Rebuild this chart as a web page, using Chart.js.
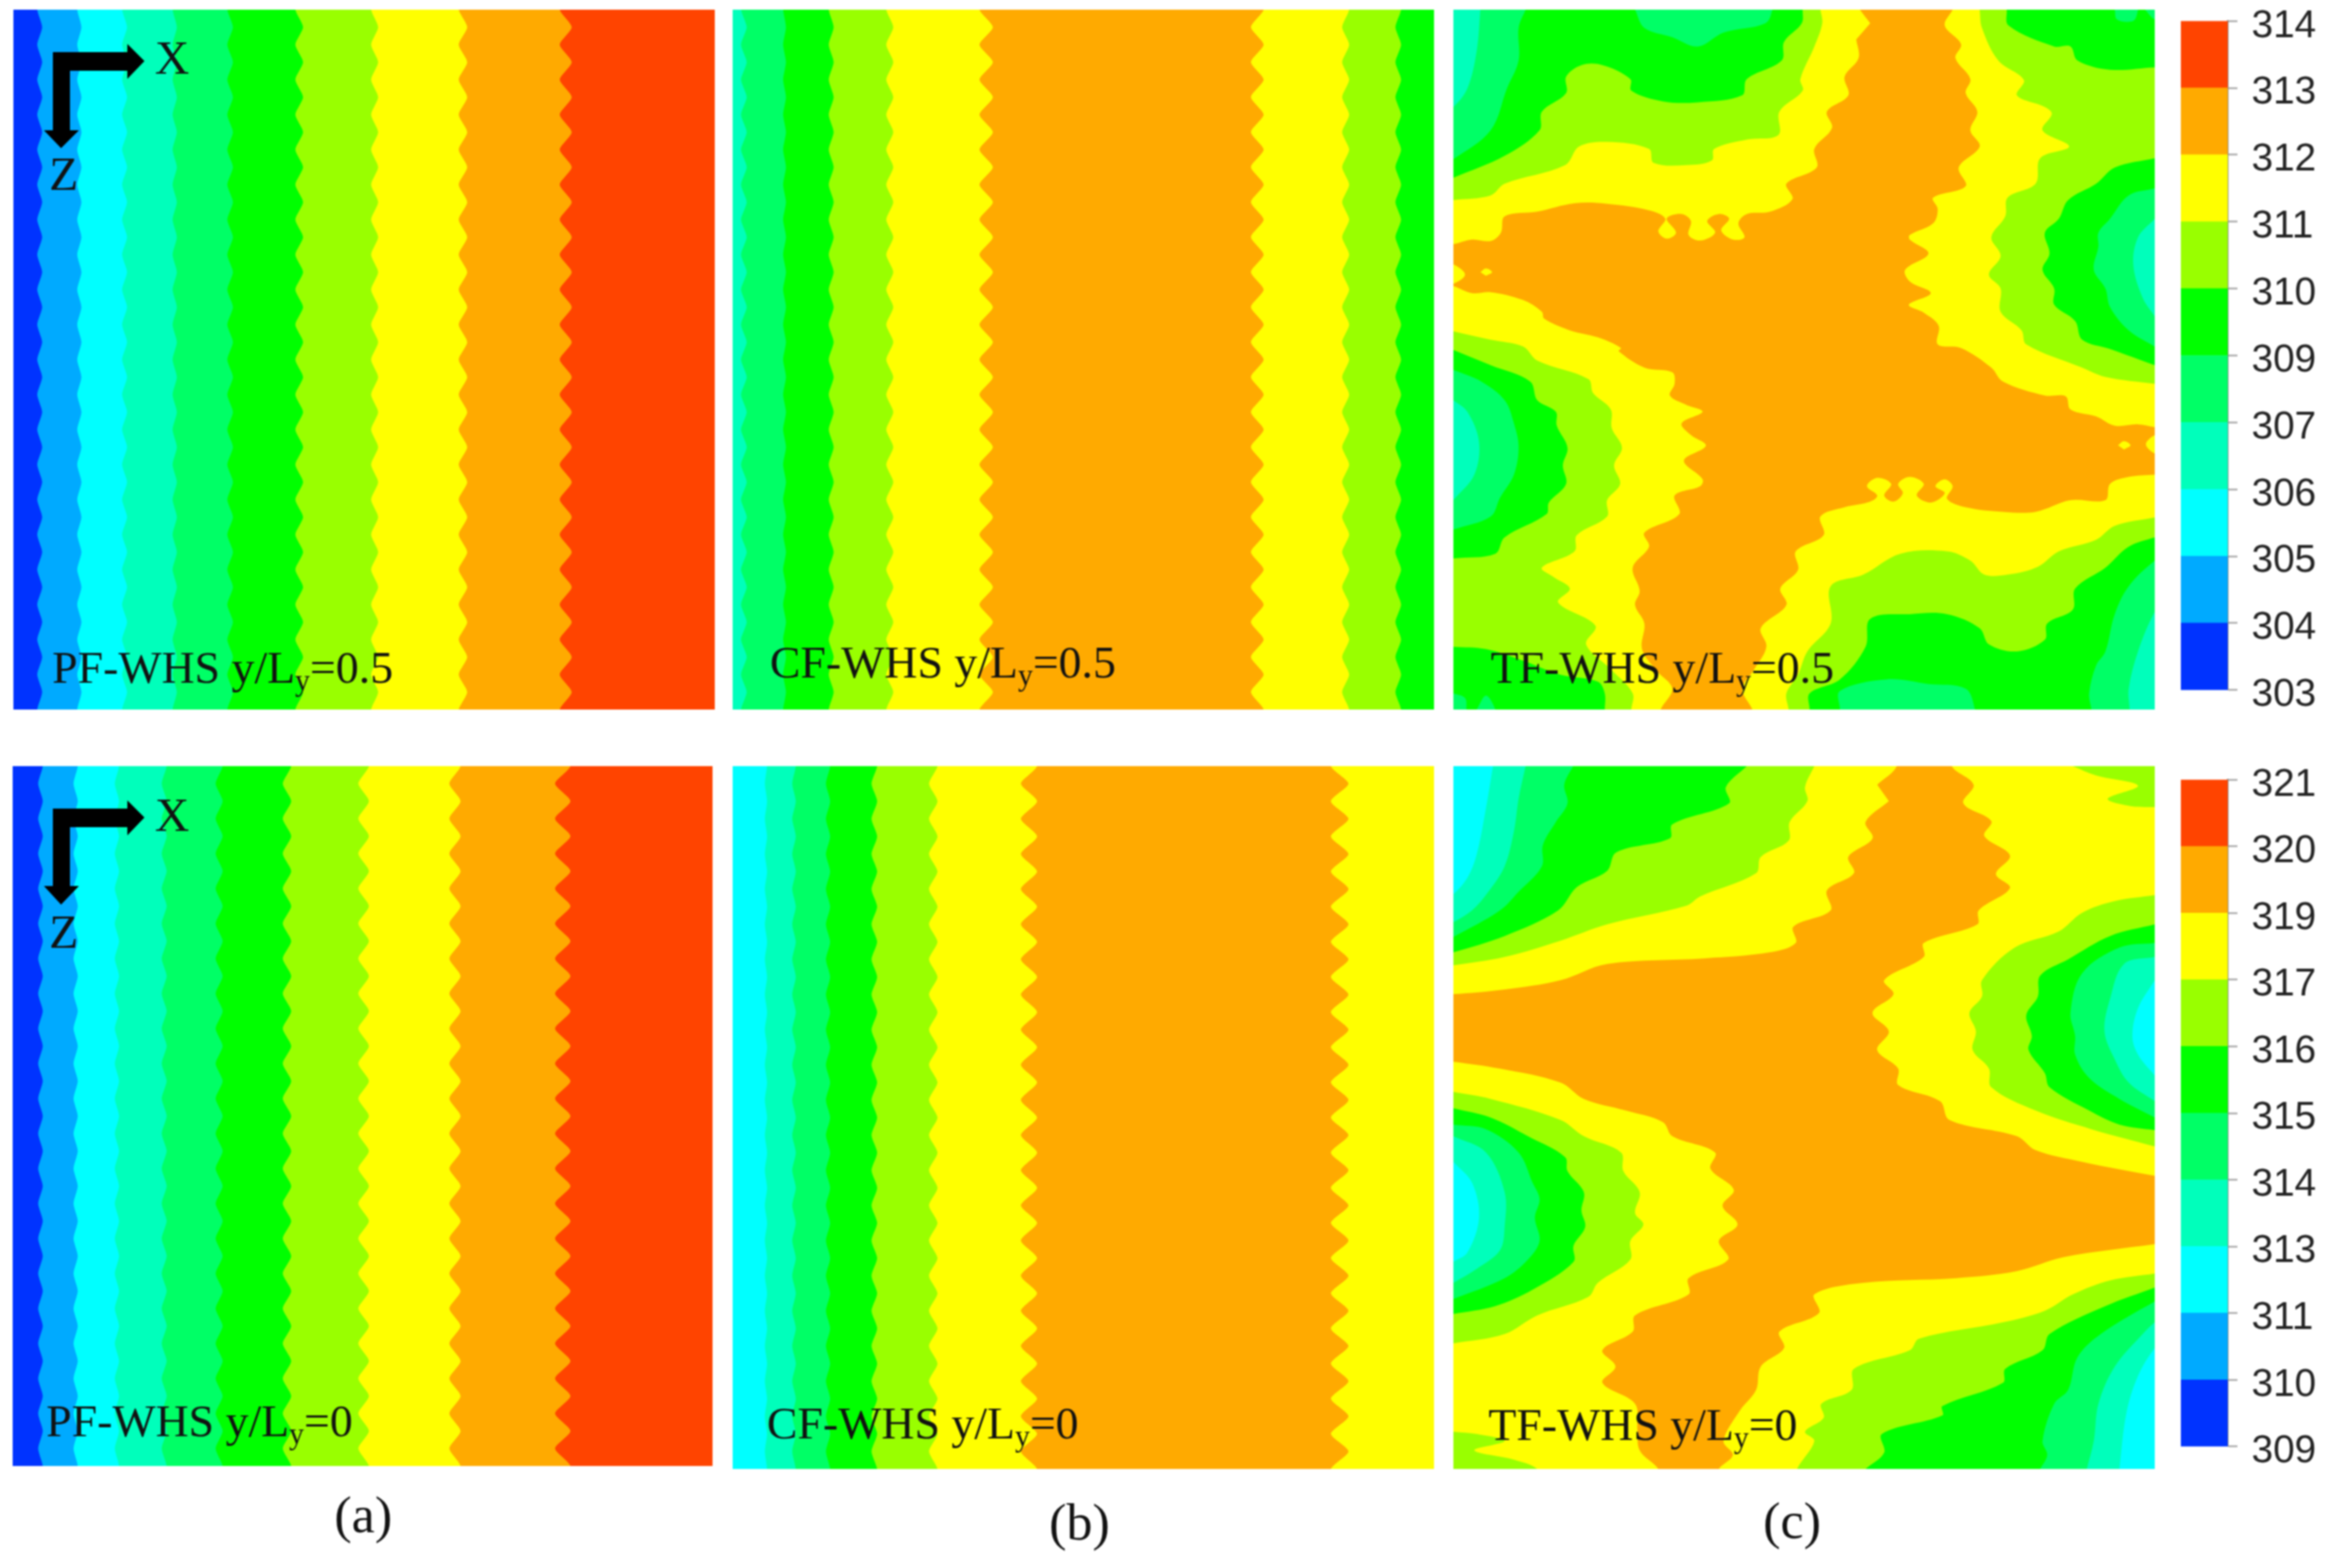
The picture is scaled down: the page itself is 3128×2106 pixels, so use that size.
<!DOCTYPE html>
<html>
<head>
<meta charset="utf-8">
<title>WHS temperature contours</title>
<script src="https://cdn.jsdelivr.net/npm/chart.js@4"></script>
<style>
  html, body { margin: 0; background: #fff; overflow: hidden; }
  #page { position: relative; width: 3128px; height: 2106px; filter: blur(0.9px); }
  canvas { position: absolute; }
  .tag { position: absolute; font-family: "Liberation Serif", serif; color: #111; white-space: nowrap; line-height: 1; }
  .tag sub { font-size: 0.65em; line-height: 0; vertical-align: -0.25em; }
  svg { position: absolute; left: 0; top: 0; }
</style>
</head>
<body>
<div id="page"></div>
<script>
// Contour levels, colour bars
const bandColors = ['#0033ff', '#00aaff', '#00ffff', '#00ffbb', '#00ff66', '#00ff00', '#99ff00', '#ffff00', '#ffaa00', '#ff4400'];
const midLevels = [303, 304.1, 305.2, 306.3, 307.4, 308.5, 309.6, 310.7, 311.8, 312.9, 314];
const wallLevels = [309, 310.2, 311.4, 312.6, 313.8, 315, 316.2, 317.4, 318.6, 319.8, 321];

// Stations along z (% of panel height) where the strip edges were read
const zStations = [0, 2.5, 5, 7.5, 10, 12.5, 15, 17.5, 20, 22.5, 25, 27.5, 30, 32.5, 35, 37.5, 40, 42.5, 45, 47.5, 50, 52.5, 55, 57.5, 60, 62.5, 65, 67.5, 70, 72.5, 75, 77.5, 80, 82.5, 85, 87.5, 90, 92.5, 95, 97.5, 100];

// Strip edges, x in % of panel width, one row per edge
const pfMidBands = [0, 1, 2, 3, 4, 5, 6, 7, 8, 9];
const pfMidEdges = [
  [3.4,4.1,3.4,4.1,3.4,4.1,3.4,4.1,3.4,4.1,3.4,4.1,3.4,4.1,3.4,4.1,3.4,4.1,3.4,4.1,3.4,4.1,3.4,4.1,3.4,4.1,3.4,4.1,3.4,4.1,3.4,4.1,3.4,4.1,3.4,4.1,3.4,4.1,3.4,4.1,3.4],
  [9.1,9.7,9.1,9.7,9.1,9.7,9.1,9.7,9.1,9.7,9.1,9.7,9.1,9.7,9.1,9.7,9.1,9.7,9.1,9.7,9.1,9.7,9.1,9.7,9.1,9.7,9.1,9.7,9.1,9.7,9.1,9.7,9.1,9.7,9.1,9.7,9.1,9.7,9.1,9.7,9.1],
  [15.5,16.2,15.5,16.2,15.5,16.2,15.5,16.2,15.5,16.2,15.5,16.2,15.5,16.2,15.5,16.2,15.5,16.2,15.5,16.2,15.5,16.2,15.5,16.2,15.5,16.2,15.5,16.2,15.5,16.2,15.5,16.2,15.5,16.2,15.5,16.2,15.5,16.2,15.5,16.2,15.5],
  [22.7,23.3,22.7,23.3,22.7,23.3,22.7,23.3,22.7,23.3,22.7,23.3,22.7,23.3,22.7,23.3,22.7,23.3,22.7,23.3,22.7,23.3,22.7,23.3,22.7,23.3,22.7,23.3,22.7,23.3,22.7,23.3,22.7,23.3,22.7,23.3,22.7,23.3,22.7,23.3,22.7],
  [30.5,31.3,30.5,31.3,30.5,31.3,30.5,31.3,30.5,31.3,30.5,31.3,30.5,31.3,30.5,31.3,30.5,31.3,30.5,31.3,30.5,31.3,30.5,31.3,30.5,31.3,30.5,31.3,30.5,31.3,30.5,31.3,30.5,31.3,30.5,31.3,30.5,31.3,30.5,31.3,30.5],
  [40.2,41.3,40.2,41.3,40.2,41.3,40.2,41.3,40.2,41.3,40.2,41.3,40.2,41.3,40.2,41.3,40.2,41.3,40.2,41.3,40.2,41.3,40.2,41.3,40.2,41.3,40.2,41.3,40.2,41.3,40.2,41.3,40.2,41.3,40.2,41.3,40.2,41.3,40.2,41.3,40.2],
  [51,52,51,52,51,52,51,52,51,52,51,52,51,52,51,52,51,52,51,52,51,52,51,52,51,52,51,52,51,52,51,52,51,52,51,52,51,52,51,52,51],
  [63.5,64.7,63.5,64.7,63.5,64.7,63.5,64.7,63.5,64.7,63.5,64.7,63.5,64.7,63.5,64.7,63.5,64.7,63.5,64.7,63.5,64.7,63.5,64.7,63.5,64.7,63.5,64.7,63.5,64.7,63.5,64.7,63.5,64.7,63.5,64.7,63.5,64.7,63.5,64.7,63.5],
  [77.9,79.6,77.9,79.6,77.9,79.6,77.9,79.6,77.9,79.6,77.9,79.6,77.9,79.6,77.9,79.6,77.9,79.6,77.9,79.6,77.9,79.6,77.9,79.6,77.9,79.6,77.9,79.6,77.9,79.6,77.9,79.6,77.9,79.6,77.9,79.6,77.9,79.6,77.9,79.6,77.9]
];

const pfWallBands = [0, 1, 2, 3, 4, 5, 6, 7, 8, 9];
const pfWallEdges = [
  [4.3,3.65,4.3,3.65,4.3,3.65,4.3,3.65,4.3,3.65,4.3,3.65,4.3,3.65,4.3,3.65,4.3,3.65,4.3,3.65,4.3,3.65,4.3,3.65,4.3,3.65,4.3,3.65,4.3,3.65,4.3,3.65,4.3,3.65,4.3,3.65,4.3,3.65,4.3,3.65,4.3],
  [9.3,8.7,9.3,8.7,9.3,8.7,9.3,8.7,9.3,8.7,9.3,8.7,9.3,8.7,9.3,8.7,9.3,8.7,9.3,8.7,9.3,8.7,9.3,8.7,9.3,8.7,9.3,8.7,9.3,8.7,9.3,8.7,9.3,8.7,9.3,8.7,9.3,8.7,9.3,8.7,9.3],
  [15.2,14.6,15.2,14.6,15.2,14.6,15.2,14.6,15.2,14.6,15.2,14.6,15.2,14.6,15.2,14.6,15.2,14.6,15.2,14.6,15.2,14.6,15.2,14.6,15.2,14.6,15.2,14.6,15.2,14.6,15.2,14.6,15.2,14.6,15.2,14.6,15.2,14.6,15.2,14.6,15.2],
  [22,21.3,22,21.3,22,21.3,22,21.3,22,21.3,22,21.3,22,21.3,22,21.3,22,21.3,22,21.3,22,21.3,22,21.3,22,21.3,22,21.3,22,21.3,22,21.3,22,21.3,22,21.3,22,21.3,22,21.3,22],
  [30,29,30,29,30,29,30,29,30,29,30,29,30,29,30,29,30,29,30,29,30,29,30,29,30,29,30,29,30,29,30,29,30,29,30,29,30,29,30,29,30],
  [39.8,38.6,39.8,38.6,39.8,38.6,39.8,38.6,39.8,38.6,39.8,38.6,39.8,38.6,39.8,38.6,39.8,38.6,39.8,38.6,39.8,38.6,39.8,38.6,39.8,38.6,39.8,38.6,39.8,38.6,39.8,38.6,39.8,38.6,39.8,38.6,39.8,38.6,39.8,38.6,39.8],
  [50.9,49.4,50.9,49.4,50.9,49.4,50.9,49.4,50.9,49.4,50.9,49.4,50.9,49.4,50.9,49.4,50.9,49.4,50.9,49.4,50.9,49.4,50.9,49.4,50.9,49.4,50.9,49.4,50.9,49.4,50.9,49.4,50.9,49.4,50.9,49.4,50.9,49.4,50.9,49.4,50.9],
  [64,62.4,64,62.4,64,62.4,64,62.4,64,62.4,64,62.4,64,62.4,64,62.4,64,62.4,64,62.4,64,62.4,64,62.4,64,62.4,64,62.4,64,62.4,64,62.4,64,62.4,64,62.4,64,62.4,64,62.4,64],
  [79.7,77.5,79.7,77.5,79.7,77.5,79.7,77.5,79.7,77.5,79.7,77.5,79.7,77.5,79.7,77.5,79.7,77.5,79.7,77.5,79.7,77.5,79.7,77.5,79.7,77.5,79.7,77.5,79.7,77.5,79.7,77.5,79.7,77.5,79.7,77.5,79.7,77.5,79.7,77.5,79.7]
];

const cfMidBands = [3, 4, 5, 6, 7, 8, 7, 6, 5];
const cfMidEdges = [
  [1.2,2,1.2,2,1.2,2,1.2,2,1.2,2,1.2,2,1.2,2,1.2,2,1.2,2,1.2,2,1.2,2,1.2,2,1.2,2,1.2,2,1.2,2,1.2,2,1.2,2,1.2,2,1.2,2,1.2,2,1.2],
  [7.2,7.6,7.2,7.6,7.2,7.6,7.2,7.6,7.2,7.6,7.2,7.6,7.2,7.6,7.2,7.6,7.2,7.6,7.2,7.6,7.2,7.6,7.2,7.6,7.2,7.6,7.2,7.6,7.2,7.6,7.2,7.6,7.2,7.6,7.2,7.6,7.2,7.6,7.2,7.6,7.2],
  [13.7,14.4,13.7,14.4,13.7,14.4,13.7,14.4,13.7,14.4,13.7,14.4,13.7,14.4,13.7,14.4,13.7,14.4,13.7,14.4,13.7,14.4,13.7,14.4,13.7,14.4,13.7,14.4,13.7,14.4,13.7,14.4,13.7,14.4,13.7,14.4,13.7,14.4,13.7,14.4,13.7],
  [21.9,22.9,21.9,22.9,21.9,22.9,21.9,22.9,21.9,22.9,21.9,22.9,21.9,22.9,21.9,22.9,21.9,22.9,21.9,22.9,21.9,22.9,21.9,22.9,21.9,22.9,21.9,22.9,21.9,22.9,21.9,22.9,21.9,22.9,21.9,22.9,21.9,22.9,21.9,22.9,21.9],
  [35.2,37.1,35.2,37.1,35.2,37.1,35.2,37.1,35.2,37.1,35.2,37.1,35.2,37.1,35.2,37.1,35.2,37.1,35.2,37.1,35.2,37.1,35.2,37.1,35.2,37.1,35.2,37.1,35.2,37.1,35.2,37.1,35.2,37.1,35.2,37.1,35.2,37.1,35.2,37.1,35.2],
  [75.7,73.9,75.7,73.9,75.7,73.9,75.7,73.9,75.7,73.9,75.7,73.9,75.7,73.9,75.7,73.9,75.7,73.9,75.7,73.9,75.7,73.9,75.7,73.9,75.7,73.9,75.7,73.9,75.7,73.9,75.7,73.9,75.7,73.9,75.7,73.9,75.7,73.9,75.7,73.9,75.7],
  [87.9,86.9,87.9,86.9,87.9,86.9,87.9,86.9,87.9,86.9,87.9,86.9,87.9,86.9,87.9,86.9,87.9,86.9,87.9,86.9,87.9,86.9,87.9,86.9,87.9,86.9,87.9,86.9,87.9,86.9,87.9,86.9,87.9,86.9,87.9,86.9,87.9,86.9,87.9,86.9,87.9],
  [95.3,94.5,95.3,94.5,95.3,94.5,95.3,94.5,95.3,94.5,95.3,94.5,95.3,94.5,95.3,94.5,95.3,94.5,95.3,94.5,95.3,94.5,95.3,94.5,95.3,94.5,95.3,94.5,95.3,94.5,95.3,94.5,95.3,94.5,95.3,94.5,95.3,94.5,95.3,94.5,95.3]
];

const cfWallBands = [2, 3, 4, 5, 6, 7, 8, 7];
const cfWallEdges = [
  [4.9,4.6,4.9,4.6,4.9,4.6,4.9,4.6,4.9,4.6,4.9,4.6,4.9,4.6,4.9,4.6,4.9,4.6,4.9,4.6,4.9,4.6,4.9,4.6,4.9,4.6,4.9,4.6,4.9,4.6,4.9,4.6,4.9,4.6,4.9,4.6,4.9,4.6,4.9,4.6,4.9],
  [9,8.5,9,8.5,9,8.5,9,8.5,9,8.5,9,8.5,9,8.5,9,8.5,9,8.5,9,8.5,9,8.5,9,8.5,9,8.5,9,8.5,9,8.5,9,8.5,9,8.5,9,8.5,9,8.5,9,8.5,9],
  [13.9,13.3,13.9,13.3,13.9,13.3,13.9,13.3,13.9,13.3,13.9,13.3,13.9,13.3,13.9,13.3,13.9,13.3,13.9,13.3,13.9,13.3,13.9,13.3,13.9,13.3,13.9,13.3,13.9,13.3,13.9,13.3,13.9,13.3,13.9,13.3,13.9,13.3,13.9,13.3,13.9],
  [20.6,19.8,20.6,19.8,20.6,19.8,20.6,19.8,20.6,19.8,20.6,19.8,20.6,19.8,20.6,19.8,20.6,19.8,20.6,19.8,20.6,19.8,20.6,19.8,20.6,19.8,20.6,19.8,20.6,19.8,20.6,19.8,20.6,19.8,20.6,19.8,20.6,19.8,20.6,19.8,20.6],
  [29.2,28,29.2,28,29.2,28,29.2,28,29.2,28,29.2,28,29.2,28,29.2,28,29.2,28,29.2,28,29.2,28,29.2,28,29.2,28,29.2,28,29.2,28,29.2,28,29.2,28,29.2,28,29.2,28,29.2,28,29.2],
  [43.4,41.1,43.4,41.1,43.4,41.1,43.4,41.1,43.4,41.1,43.4,41.1,43.4,41.1,43.4,41.1,43.4,41.1,43.4,41.1,43.4,41.1,43.4,41.1,43.4,41.1,43.4,41.1,43.4,41.1,43.4,41.1,43.4,41.1,43.4,41.1,43.4,41.1,43.4,41.1,43.4],
  [85.3,87.8,85.3,87.8,85.3,87.8,85.3,87.8,85.3,87.8,85.3,87.8,85.3,87.8,85.3,87.8,85.3,87.8,85.3,87.8,85.3,87.8,85.3,87.8,85.3,87.8,85.3,87.8,85.3,87.8,85.3,87.8,85.3,87.8,85.3,87.8,85.3,87.8,85.3,87.8,85.3]
];

// TF panels: contour outlines digitised as x,z pairs (frame is 20..1526 across)
// TF y/Ly=0.5, frame z 21..1525
const tfMidOrange = [[
  915,50, 893,21, 880,0, 1100,0, 1092,21, 1075,55, 1110,95, 1098,125, 1130,170, 1120,200, 1145,240, 1130,280, 1150,315, 1105,360, 1120,400, 1050,425, 1060,450, 1050,480, 1000,505, 1000,515, 1040,545, 990,580, 1000,605, 1045,630, 998,655, 1030,672, 1062,700, 1060,740, 1110,748, 1175,790, 1200,820, 1290,850, 1335,852, 1345,880, 1400,895, 1440,915, 1490,912, 1526,918, 1550,920, 1550,930, 1526,935, 1507,955, 1526,975, 1550,980, 1550,1020, 1526,1020, 1470,1025, 1430,1040, 1420,1075, 1345,1075, 1270,1100, 1200,1100, 1120,1090, 1080,1072, 1092,1045, 1075,1030, 1055,1045, 1075,1060, 1045,1080, 1015,1065, 1030,1040, 1000,1025, 975,1040, 985,1060, 965,1078, 945,1065, 960,1040, 930,1027, 908,1045, 930,1065, 915,1078, 860,1090, 808,1110, 815,1150, 755,1185, 760,1225, 722,1265, 735,1300, 680,1350, 692,1390, 665,1440, 640,1480, 662,1525, 670,1550, 460,1550, 465,1525, 490,1480, 455,1440, 425,1395, 430,1340, 410,1300, 420,1270, 405,1220, 440,1175, 430,1145, 505,1105, 495,1065, 550,1045, 555,1030, 515,990, 562,958, 530,935, 510,910, 555,885, 520,870, 485,850, 495,825, 490,800, 430,790, 375,755, 380,748, 330,725, 270,710, 215,685, 210,670, 170,645, 100,628, 60,630, 20,615, 0,612, 0,610, 20,610, 45,590, 20,568, 0,566, 0,525, 20,525, 60,515, 100,518, 122,500, 130,465, 200,455, 280,437, 350,438, 440,452, 475,470, 460,497, 478,513, 498,500, 478,470, 510,460, 530,475, 525,505, 550,517, 582,500, 565,475, 590,460, 612,470, 595,495, 620,515, 645,510, 632,480, 650,460, 700,455, 748,428, 735,395, 800,360, 795,320, 833,275, 822,240, 868,205, 860,165, 890,125, 885,85
]];
const tfMidHoles = [
  [78,585, 90,577, 103,585, 90,593],
  [1447,957, 1460,948, 1474,957, 1460,966]
];
const tfMidLime = [
  [808,21, 812,50, 795,100, 765,170, 770,195, 720,240, 718,290, 650,300, 580,320, 575,345, 520,355, 450,350, 440,320, 350,305, 290,315, 260,355, 130,395, 100,420, 20,430, 0,432, 0,0, 808,0],
  [1150,21, 1155,60, 1190,130, 1245,172, 1230,205, 1290,230, 1305,245, 1285,280, 1342,315, 1280,340, 1270,395, 1210,425, 1205,465, 1175,510, 1195,550, 1170,590, 1195,620, 1195,670, 1240,710, 1250,740, 1370,790, 1420,810, 1526,825, 1550,828, 1550,0, 1150,0],
  [20,712, 100,730, 170,745, 200,775, 310,815, 320,845, 358,880, 360,920, 382,962, 365,1000, 378,1040, 350,1075, 350,1110, 285,1150, 280,1185, 210,1220, 235,1240, 270,1265, 245,1295, 325,1345, 305,1385, 360,1440, 405,1490, 402,1525, 402,1550, 0,1550, 0,712],
  [740,1525, 735,1490, 760,1450, 780,1400, 830,1340, 830,1260, 900,1235, 980,1190, 1080,1185, 1130,1205, 1160,1235, 1210,1235, 1275,1218, 1320,1185, 1400,1160, 1440,1130, 1526,1112, 1550,1108, 1550,1550, 740,1550]
];
const tfMidGreen = [
  [770,21, 768,50, 730,90, 725,130, 650,170, 640,205, 545,220, 470,218, 402,195, 400,170, 340,140, 295,140, 262,165, 262,200, 210,240, 205,280, 130,335, 20,382, 0,390, 0,0, 770,0],
  [1208,21, 1212,55, 1310,100, 1345,100, 1360,130, 1430,150, 1526,145, 1550,145, 1550,0, 1208,0],
  [1526,340, 1440,360, 1400,395, 1340,430, 1320,470, 1290,500, 1300,545, 1285,580, 1310,620, 1310,655, 1355,690, 1370,730, 1430,750, 1526,785],
  [20,752, 100,785, 185,820, 200,860, 240,885, 242,915, 265,962, 255,1000, 262,1040, 225,1080, 220,1105, 130,1155, 110,1190, 20,1200],
  [20,1390, 90,1395, 170,1420, 250,1450, 330,1465, 345,1490, 345,1525, 345,1550, 0,1550, 0,1390],
  [785,1525, 785,1490, 850,1460, 905,1390, 915,1330, 1000,1320, 1080,1320, 1150,1350, 1170,1385, 1230,1400, 1290,1375, 1295,1340, 1350,1310, 1355,1265, 1420,1220, 1470,1175, 1526,1155, 1550,1150, 1550,1550, 785,1550]
];
const tfMidSpring = [
  [175,21, 160,60, 160,130, 135,190, 100,280, 20,342, 0,350, 0,0, 175,0],
  [410,21, 430,60, 490,80, 545,100, 600,70, 690,50, 705,21, 705,0, 410,0],
  [1440,21, 1445,42, 1480,45, 1490,21, 1490,0, 1440,0],
  [1505,21, 1526,42, 1550,42, 1550,0, 1505,0],
  [1526,405, 1470,420, 1430,470, 1405,500, 1405,530, 1395,580, 1420,620, 1430,660, 1470,710, 1526,745],
  [20,795, 80,820, 130,860, 150,910, 160,960, 150,1020, 120,1070, 100,1110, 20,1138],
  [20,1490, 45,1500, 48,1525, 48,1550, 0,1550, 0,1490],
  [70,1525, 90,1495, 110,1525, 110,1550, 70,1550],
  [850,1525, 850,1485, 950,1460, 1040,1470, 1120,1480, 1140,1525, 1140,1550, 850,1550],
  [1390,1525, 1385,1490, 1400,1430, 1420,1400, 1440,1320, 1470,1260, 1526,1205, 1550,1195, 1550,1550, 1390,1550]
];
const tfMidAqua = [
  [78,21, 70,110, 50,190, 20,230, 0,240, 0,0, 78,0],
  [1526,470, 1490,510, 1480,570, 1500,640, 1526,680],
  [20,860, 50,885, 75,950, 65,1020, 20,1075],
  [1472,1525, 1470,1480, 1490,1400, 1526,1315, 1550,1290, 1550,1550, 1472,1550]
];

// TF y/Ly=0, frame z 30..1540
const tfWallOrange = [[
  930,70, 972,30, 960,0, 1100,0, 1090,30, 1137,70, 1115,110, 1175,148, 1160,180, 1215,222, 1185,262, 1215,292, 1148,340, 1145,370, 1030,410, 1030,440, 945,490, 965,520, 920,560, 955,600, 930,640, 975,680, 975,715, 1065,750, 1085,790, 1230,825, 1270,855, 1370,880, 1526,910, 1550,912, 1550,1054, 1526,1057, 1330,1085, 1230,1115, 1100,1130, 900,1140, 795,1165, 805,1205, 720,1245, 730,1280, 680,1320, 670,1370, 635,1415, 600,1480, 620,1510, 590,1540, 590,1560, 460,1560, 460,1540, 420,1500, 415,1455, 410,1400, 340,1355, 368,1320, 340,1285, 405,1245, 410,1210, 525,1165, 525,1130, 610,1090, 590,1050, 630,1015, 598,975, 622,940, 572,895, 582,860, 490,825, 470,795, 390,770, 300,745, 250,710, 120,680, 20,665, 0,663, 0,518, 20,520, 130,510, 250,490, 350,455, 560,443, 700,430, 755,410, 750,375, 830,340, 822,297, 880,260, 868,225, 920,185, 905,150, 955,105
]];
const tfWallLime = [
  [795,30, 775,75, 780,105, 742,150, 740,190, 680,225, 670,260, 550,310, 520,330, 350,370, 250,405, 130,440, 20,458, 0,460, 0,0, 795,0],
  [1350,30, 1400,50, 1490,72, 1425,100, 1470,115, 1526,118, 1550,118, 1550,0, 1350,0],
  [1526,307, 1440,320, 1370,345, 1320,385, 1225,420, 1155,490, 1155,525, 1128,560, 1142,600, 1135,640, 1170,680, 1175,720, 1270,770, 1390,810, 1526,847],
  [20,730, 100,745, 250,790, 300,825, 380,860, 385,900, 420,945, 410,990, 428,1015, 400,1050, 400,1090, 330,1140, 310,1170, 200,1210, 130,1250, 20,1270],
  [20,1460, 70,1465, 130,1480, 65,1500, 150,1520, 200,1540, 200,1560, 0,1560, 0,1460],
  [1526,1120, 1430,1135, 1350,1165, 1290,1200, 1200,1225, 1020,1260, 1000,1285, 880,1325, 875,1370, 810,1400, 815,1430, 775,1460, 795,1480, 758,1540, 758,1560, 1550,1560, 1550,1120]
];
const tfWallGreen = [
  [650,30, 605,75, 612,110, 490,155, 485,185, 370,215, 350,255, 285,290, 245,340, 130,395, 20,430, 0,435, 0,0, 650,0],
  [1526,370, 1430,395, 1340,445, 1280,480, 1275,525, 1250,565, 1262,610, 1255,640, 1290,690, 1300,720, 1385,770, 1450,800, 1526,812],
  [20,765, 100,785, 180,825, 260,870, 265,900, 300,945, 295,985, 303,1020, 278,1060, 278,1095, 190,1155, 110,1190, 20,1207],
  [905,1540, 945,1505, 940,1465, 1070,1425, 1070,1405, 1200,1355, 1205,1325, 1285,1285, 1300,1250, 1420,1190, 1526,1150, 1550,1140, 1550,1560, 905,1560]
];
const tfWallSpring = [
  [277,30, 258,70, 265,110, 240,150, 212,200, 210,245, 160,300, 120,340, 20,397, 0,405, 0,0, 277,0],
  [1526,410, 1450,420, 1370,475, 1345,560, 1355,610, 1355,650, 1385,700, 1450,745, 1526,785],
  [20,800, 90,810, 160,860, 190,925, 205,960, 195,1000, 205,1050, 180,1090, 130,1130, 20,1175],
  [1280,1540, 1295,1510, 1285,1480, 1310,1400, 1340,1370, 1360,1300, 1410,1250, 1526,1180, 1550,1170, 1550,1560, 1280,1560]
];
const tfWallAqua = [
  [175,30, 160,100, 150,170, 130,245, 95,300, 60,340, 20,365, 0,370, 0,0, 175,0],
  [1526,440, 1460,455, 1430,530, 1418,600, 1440,660, 1470,710, 1526,750],
  [20,825, 90,860, 130,945, 130,1020, 120,1070, 70,1110, 20,1140],
  [1380,1540, 1395,1480, 1405,1400, 1440,1320, 1500,1250, 1526,1225, 1550,1210, 1550,1560, 1380,1560]
];
const tfWallCyan = [
  [105,30, 90,120, 70,220, 50,270, 20,305, 0,315, 0,0, 105,0],
  [1526,490, 1490,550, 1478,610, 1490,650, 1526,695],
  [20,880, 60,925, 75,1000, 50,1075, 20,1095],
  [1450,1540, 1465,1420, 1490,1340, 1526,1280, 1550,1260, 1550,1560, 1450,1560]
];

const page = document.getElementById('page');

function addCanvas(left, top, width, height) {
  const c = document.createElement('canvas');
  c.width = width;
  c.height = height;
  c.style.left = left + 'px';
  c.style.top = top + 'px';
  c.style.width = width + 'px';
  c.style.height = height + 'px';
  page.appendChild(c);
  return c;
}

function shape(points, color, tension) {
  return {
    data: points,
    showLine: true,
    fill: 'shape',
    backgroundColor: color,
    borderWidth: 0,
    pointRadius: 0,
    tension: tension,
    capBezierPoints: false
  };
}

function panelChart(box, layers, xRange, zRange) {
  // Chart.js paints the first dataset last, so the layers go in reversed
  new Chart(addCanvas(box[0], box[1], box[2] - box[0], box[3] - box[1]), {
    type: 'scatter',
    data: { datasets: layers.slice().reverse() },
    options: {
      responsive: false,
      animation: false,
      events: [],
      layout: { padding: 0 },
      plugins: { legend: { display: false }, tooltip: { enabled: false } },
      scales: {
        x: { type: 'linear', display: false, min: xRange[0], max: xRange[1] },
        y: { type: 'linear', display: false, reverse: true, min: zRange[0], max: zRange[1] }
      }
    }
  });
}

function stripPanel(box, bands, edges) {
  const layers = [shape([{x: -5, y: -5}, {x: 105, y: -5}, {x: 105, y: 105}, {x: -5, y: 105}], bandColors[bands[0]], 0)];
  edges.forEach((edge, i) => {
    const pts = edge.map((x, k) => ({x: x, y: zStations[k]}));
    pts.unshift({x: edge[0], y: -5});
    pts.push({x: edge[edge.length - 1], y: 105}, {x: 110, y: 105}, {x: 110, y: -5});
    layers.push(shape(pts, bandColors[bands[i + 1]], 0.22));
  });
  panelChart(box, layers, [0, 100], [0, 100]);
}

function toPoints(flat) {
  const pts = [];
  for (let i = 0; i < flat.length; i += 2) pts.push({x: flat[i], y: flat[i + 1]});
  return pts;
}

function contourPanel(box, groups, zRange) {
  const layers = [shape([{x: 0, y: 0}, {x: 1550, y: 0}, {x: 1550, y: 1600}, {x: 0, y: 1600}], bandColors[7], 0)];
  groups.forEach(g => g[0].forEach(flat => layers.push(shape(toPoints(flat), bandColors[g[1]], 0.35))));
  panelChart(box, layers, [20, 1526], zRange);
}

function colorBar(box, levels) {
  const pad = 50;
  new Chart(addCanvas(box[0], box[1] - pad, 3128 - box[0], box[3] - box[1] + pad * 2), {
    type: 'bar',
    data: {
      labels: [''],
      datasets: bandColors.map((color, i) => ({
        data: [[levels[i], levels[i + 1]]],
        backgroundColor: color,
        grouped: false,
        barPercentage: 1,
        categoryPercentage: 1
      }))
    },
    options: {
      responsive: false,
      animation: false,
      events: [],
      layout: { padding: { top: pad, bottom: pad } },
      plugins: { legend: { display: false }, tooltip: { enabled: false } },
      scales: {
        x: { display: false },
        y: {
          position: 'right',
          min: levels[0],
          max: levels[levels.length - 1],
          afterBuildTicks: axis => { axis.ticks = levels.map(v => ({value: v})); },
          afterFit: axis => { axis.width = 3128 - box[2]; },
          grid: { drawOnChartArea: false, tickLength: 13, tickColor: '#999', tickWidth: 2 },
          border: { color: '#888', width: 2 },
          ticks: {
            autoSkip: false,
            padding: 19,
            labelOffset: 7,
            color: '#222',
            font: { family: '"Liberation Sans", sans-serif', size: 52 },
            callback: v => String(Math.round(v))
          }
        }
      }
    }
  });
}

function addTag(html, left, baseline, size) {
  const d = document.createElement('div');
  d.className = 'tag';
  d.innerHTML = html;
  d.style.left = left + 'px';
  d.style.top = (baseline - size * 0.89) + 'px';
  d.style.fontSize = size + 'px';
  page.appendChild(d);
}

function addAxes(x0, yTop, yHead, yTip, xLabelY, zLabelY) {
  const ns = 'http://www.w3.org/2000/svg';
  const svg = document.createElementNS(ns, 'svg');
  svg.setAttribute('width', 400);
  svg.setAttribute('height', 2106);
  const p = document.createElementNS(ns, 'polygon');
  const b = yTop + 25;
  const m = yTop + 12;
  p.setAttribute('points', [
    [x0, yTop], [x0 + 100, yTop], [x0 + 100, yTop - 11], [x0 + 123, m], [x0 + 100, b + 11], [x0 + 100, b],
    [x0 + 23, b], [x0 + 23, yHead], [x0 + 35, yHead], [x0 + 11, yTip], [x0 - 12, yHead], [x0, yHead]
  ].map(q => q.join(',')).join(' '));
  svg.appendChild(p);
  page.appendChild(svg);
  addTag('X', x0 + 137, xLabelY + 21, 64);
  addTag('Z', x0 - 5, zLabelY + 21, 64);
}

const strips = [
  [[18, 13, 960, 953], pfMidBands, pfMidEdges],
  [[984, 13, 1926, 953], cfMidBands, cfMidEdges],
  [[17, 1029, 957, 1969], pfWallBands, pfWallEdges],
  [[984, 1029, 1926, 1973], cfWallBands, cfWallEdges]
];
strips.forEach(s => stripPanel(s[0], s[1], s[2]));

contourPanel([1952, 13, 2894, 953], [
  [tfMidOrange, 8], [tfMidHoles, 7], [tfMidLime, 6], [tfMidGreen, 5], [tfMidSpring, 4], [tfMidAqua, 3]
], [21, 1525]);
contourPanel([1952, 1029, 2894, 1973], [
  [tfWallOrange, 8], [tfWallLime, 6], [tfWallGreen, 5], [tfWallSpring, 4], [tfWallAqua, 3], [tfWallCyan, 2]
], [30, 1540]);

colorBar([2929, 28, 2992, 927], midLevels);
colorBar([2929, 1047, 2992, 1943], wallLevels);

addTag('PF-WHS y/L<sub>y</sub>=0.5', 70, 921, 61.5);
addTag('CF-WHS y/L<sub>y</sub>=0.5', 1034, 914, 61.5);
addTag('TF-WHS y/L<sub>y</sub>=0.5', 2002, 921, 61.5);
addTag('PF-WHS y/L<sub>y</sub>=0', 62, 1933, 61.5);
addTag('CF-WHS y/L<sub>y</sub>=0', 1030, 1936, 61.5);
addTag('TF-WHS y/L<sub>y</sub>=0', 1999, 1938, 61.5);
addTag('(a)', 449, 2062, 70);
addTag('(b)', 1409, 2072, 70);
addTag('(c)', 2368, 2070, 70);

addAxes(71, 70, 175, 199, 82, 238);
addAxes(71, 1086, 1190, 1215, 1099, 1256);
</script>
</body>
</html>
